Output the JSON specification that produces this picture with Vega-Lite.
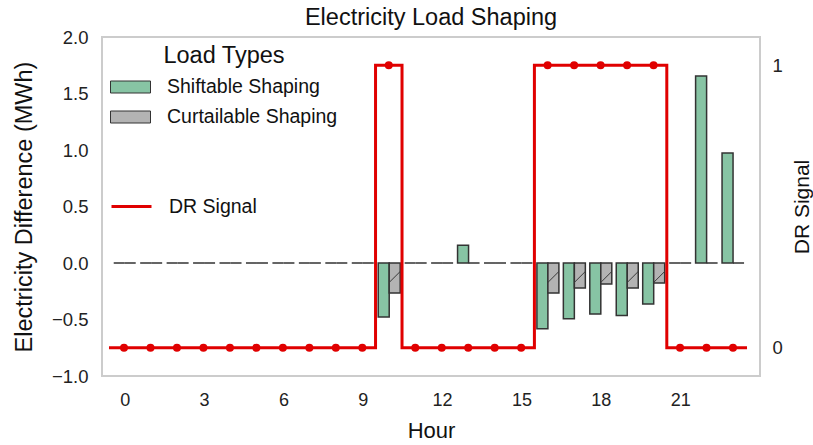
{
  "$schema": "https://vega.github.io/schema/vega-lite/v6.json",
  "width": 658,
  "height": 339,
  "autosize": {"type": "none"},
  "padding": {"left": 102, "top": 37, "right": 53, "bottom": 69},
  "background": "white",
  "title": {
    "text": "Electricity Load Shaping",
    "fontSize": 23.5,
    "fontWeight": "normal",
    "font": "Liberation Sans",
    "color": "#111111",
    "anchor": "middle",
    "frame": "group",
    "baseline": "alphabetic",
    "offset": -20
  },
  "config": {
    "font": "Liberation Sans",
    "view": {"stroke": "#cccccc", "strokeWidth": 2},
    "axis": {
      "grid": false,
      "ticks": false,
      "domain": false,
      "labelFlush": false,
      "labelColor": "#222222",
      "titleColor": "#111111",
      "titleFontWeight": "normal",
      "labelFont": "Liberation Sans",
      "titleFont": "Liberation Sans"
    },
    "legend": {"labelFont": "Liberation Sans", "titleFont": "Liberation Sans"}
  },
  "datasets": {
    "loads": [
      {"hour": 0, "shiftable": 0, "curtailable": 0},
      {"hour": 1, "shiftable": 0, "curtailable": 0},
      {"hour": 2, "shiftable": 0, "curtailable": 0},
      {"hour": 3, "shiftable": 0, "curtailable": 0},
      {"hour": 4, "shiftable": 0, "curtailable": 0},
      {"hour": 5, "shiftable": 0, "curtailable": 0},
      {"hour": 6, "shiftable": 0, "curtailable": 0},
      {"hour": 7, "shiftable": 0, "curtailable": 0},
      {"hour": 8, "shiftable": 0, "curtailable": 0},
      {"hour": 9, "shiftable": 0, "curtailable": 0},
      {"hour": 10, "shiftable": -0.478, "curtailable": -0.266},
      {"hour": 11, "shiftable": 0, "curtailable": 0},
      {"hour": 12, "shiftable": 0, "curtailable": 0},
      {"hour": 13, "shiftable": 0.156, "curtailable": 0},
      {"hour": 14, "shiftable": 0, "curtailable": 0},
      {"hour": 15, "shiftable": 0, "curtailable": 0},
      {"hour": 16, "shiftable": -0.582, "curtailable": -0.266},
      {"hour": 17, "shiftable": -0.493, "curtailable": -0.221},
      {"hour": 18, "shiftable": -0.452, "curtailable": -0.186},
      {"hour": 19, "shiftable": -0.464, "curtailable": -0.221},
      {"hour": 20, "shiftable": -0.363, "curtailable": -0.177},
      {"hour": 21, "shiftable": 0, "curtailable": 0},
      {"hour": 22, "shiftable": 1.655, "curtailable": 0},
      {"hour": 23, "shiftable": 0.974, "curtailable": 0}
    ],
    "signal": [
      {"hour": -0.567, "dr": 0, "dot": false},
      {"hour": 0, "dr": 0, "dot": true},
      {"hour": 1, "dr": 0, "dot": true},
      {"hour": 2, "dr": 0, "dot": true},
      {"hour": 3, "dr": 0, "dot": true},
      {"hour": 4, "dr": 0, "dot": true},
      {"hour": 5, "dr": 0, "dot": true},
      {"hour": 6, "dr": 0, "dot": true},
      {"hour": 7, "dr": 0, "dot": true},
      {"hour": 8, "dr": 0, "dot": true},
      {"hour": 9, "dr": 0, "dot": true},
      {"hour": 10, "dr": 1, "dot": true},
      {"hour": 11, "dr": 0, "dot": true},
      {"hour": 12, "dr": 0, "dot": true},
      {"hour": 13, "dr": 0, "dot": true},
      {"hour": 14, "dr": 0, "dot": true},
      {"hour": 15, "dr": 0, "dot": true},
      {"hour": 16, "dr": 1, "dot": true},
      {"hour": 17, "dr": 1, "dot": true},
      {"hour": 18, "dr": 1, "dot": true},
      {"hour": 19, "dr": 1, "dot": true},
      {"hour": 20, "dr": 1, "dot": true},
      {"hour": 21, "dr": 0, "dot": true},
      {"hour": 22, "dr": 0, "dot": true},
      {"hour": 23, "dr": 0, "dot": true},
      {"hour": 23.53, "dr": 0, "dot": false}
    ]
  },
  "layer": [
    {
      "data": {"name": "loads"},
      "encoding": {
        "x": {
          "field": "hour",
          "type": "quantitative",
          "scale": {"domain": [-0.67, 23.83], "nice": false, "zero": false},
          "axis": {
            "values": [0, 3, 6, 9, 12, 15, 18, 21],
            "format": "d",
            "title": "Hour",
            "labelFontSize": 18,
            "titleFontSize": 22,
            "labelPadding": 15,
            "titlePadding": 11
          }
        }
      },
      "layer": [
        {
          "mark": {"type": "bar", "width": 11, "xOffset": -5.5, "stroke": "#333333", "strokeWidth": 1.5},
          "encoding": {
            "y": {
              "field": "shiftable",
              "type": "quantitative",
              "scale": {"domain": [-1, 2], "nice": false, "zero": false},
              "axis": {
                "values": [-1, -0.5, 0, 0.5, 1, 1.5, 2],
                "format": ".1f",
                "title": "Electricity Difference (MWh)",
                "labelFontSize": 18.5,
                "titleFontSize": 23.5,
                "labelPadding": 14,
                "titlePadding": 14.5
              }
            },
            "fill": {
              "datum": "Shiftable Shaping",
              "type": "nominal",
              "scale": {"domain": ["Shiftable Shaping", "Curtailable Shaping"], "range": ["#87c4a4", "#b3b3b3"]},
              "legend": {
                "orient": "none",
                "legendX": 8,
                "legendY": 7,
                "title": "Load Types",
                "titleFontSize": 23.5,
                "titleFontWeight": "normal",
                "titleColor": "#111111",
                "titleAnchor": "middle",
                "titlePadding": -1,
                "labelFontSize": 19.5,
                "labelColor": "#111111",
                "labelLimit": 400,
                "labelOffset": 16,
                "symbolType": "M-1,-0.3H1V0.3H-1Z",
                "symbolSize": 1600,
                "symbolStrokeColor": "#3a3a3a",
                "symbolStrokeWidth": 1,
                "rowPadding": -15,
                "padding": 0
              }
            }
          }
        },
        {
          "mark": {"type": "bar", "width": 11, "xOffset": 5.5, "stroke": "#333333", "strokeWidth": 1.5},
          "encoding": {
            "y": {"field": "curtailable", "type": "quantitative"},
            "fill": {"datum": "Curtailable Shaping", "type": "nominal"}
          }
        },
        {
          "transform": [{"filter": "datum.curtailable < -0.1"}],
          "mark": {"type": "rule", "x2Offset": 11, "stroke": "#3a3a3a", "strokeWidth": 1},
          "encoding": {
            "x2": {"field": "hour"},
            "y": {"datum": -0.172},
            "y2": {"datum": -0.075}
          }
        }
      ]
    },
    {
      "data": {"name": "signal"},
      "encoding": {
        "x": {
          "field": "hour",
          "type": "quantitative",
          "scale": {"domain": [-0.831, 24.02], "nice": false, "zero": false},
          "axis": null
        },
        "y": {
          "field": "dr",
          "type": "quantitative",
          "scale": {"domain": [-0.1, 1.1], "nice": false, "zero": false},
          "axis": {
            "orient": "right",
            "values": [0, 1],
            "format": "d",
            "title": "DR Signal",
            "titleAngle": 270,
            "labelFontSize": 18.5,
            "titleFontSize": 21,
            "labelPadding": 12,
            "titlePadding": 30
          }
        }
      },
      "layer": [
        {
          "mark": {"type": "line", "interpolate": "step", "strokeWidth": 3},
          "encoding": {
            "stroke": {
              "datum": "DR Signal",
              "type": "nominal",
              "scale": {"domain": ["DR Signal"], "range": ["#e00000"]},
              "legend": {
                "orient": "none",
                "legendX": 8,
                "legendY": 148,
                "title": null,
                "labelFontSize": 19.5,
                "labelColor": "#111111",
                "labelOffset": 16,
                "symbolType": "M-1,0H1",
                "symbolSize": 1600,
                "symbolStrokeWidth": 3,
                "padding": 0
              }
            }
          }
        },
        {
          "transform": [{"filter": "datum.dot"}],
          "mark": {"type": "circle", "size": 64, "color": "#e00000", "opacity": 1},
          "encoding": {}
        }
      ]
    }
  ],
  "resolve": {"scale": {"x": "independent", "y": "independent"}}
}
